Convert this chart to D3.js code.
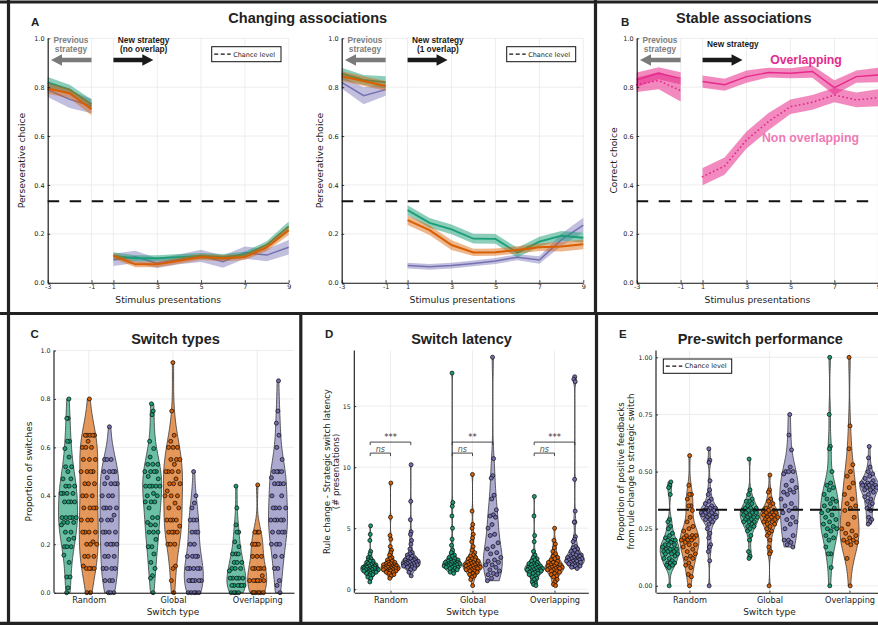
<!DOCTYPE html>
<html><head><meta charset="utf-8">
<script src="https://cdn.jsdelivr.net/npm/d3@7/dist/d3.min.js"></script>
<style>html,body{margin:0;padding:0;background:#fff;}svg{display:block;}</style>
</head><body>
<svg id="fig" width="878" height="625" xmlns="http://www.w3.org/2000/svg"></svg>
<script>
// ================= DATA =================
const stimLabels = ["-3","-2","-1","1","2","3","4","5","6","7","8","9"];
const stimTickIdx = [0,2,3,5,7,9,11];
const probTicks = [0,0.2,0.4,0.6,0.8,1.0];
const chance = 1/3;

// Panel A (left): no overlap
const a1Green  = [0.82,0.79,0.73, 0.11,0.10,0.10,0.105,0.11,0.105,0.115,0.155,0.23];
const a1GreenSem = [0.022,0.02,0.02, 0.015,0.012,0.012,0.012,0.012,0.012,0.012,0.015,0.02];
const a1Orange = [0.795,0.775,0.71, 0.11,0.075,0.075,0.09,0.105,0.10,0.105,0.145,0.215];
const a1OrangeSem = [0.022,0.02,0.025, 0.012,0.012,0.012,0.012,0.012,0.012,0.012,0.015,0.02];
const a1Purple = [0.79,0.75,0.723, 0.093,0.106,0.08,0.095,0.11,0.086,0.123,0.113,0.145];
const a1PurpleSem = [0.03,0.035,0.03, 0.025,0.025,0.02,0.02,0.025,0.025,0.025,0.025,0.03];

// Panel A (right): 1 overlap
const a2Green  = [0.855,0.83,0.82, 0.297,0.245,0.218,0.18,0.179,0.123,0.168,0.192,0.184];
const a2GreenSem = [0.025,0.02,0.025, 0.02,0.02,0.02,0.02,0.02,0.02,0.02,0.02,0.02];
const a2Orange = [0.845,0.825,0.805, 0.256,0.215,0.154,0.124,0.125,0.134,0.145,0.148,0.157];
const a2OrangeSem = [0.02,0.02,0.02, 0.02,0.02,0.02,0.015,0.015,0.015,0.015,0.02,0.02];
const a2Purple = [0.82,0.765,0.79, 0.07,0.065,0.07,0.079,0.089,0.104,0.093,0.175,0.236];
const a2PurpleSem = [0.025,0.035,0.025, 0.012,0.012,0.012,0.012,0.012,0.012,0.015,0.025,0.03];

// Panel B: stable associations
const bOverlap = [0.83,0.857,0.836, 0.823,0.81,0.843,0.86,0.857,0.864,0.798,0.843,0.85];
const bOverlapSem = [0.03,0.025,0.025, 0.025,0.025,0.025,0.02,0.02,0.025,0.03,0.025,0.03];
const bNonOverlap = [0.81,0.827,0.786, 0.434,0.477,0.584,0.659,0.72,0.738,0.768,0.748,0.757];
const bNonOverlapSem = [0.03,0.035,0.045, 0.035,0.035,0.035,0.035,0.03,0.03,0.03,0.03,0.035];

const switchTypes = ["Random","Global","Overlapping"];

// Panel C: proportion of switches
const cRandomGreen = [0.80,0.72,0.72,0.625,0.625,0.595,0.56,0.52,0.52,0.50,0.47,0.47,0.44,0.44,0.44,0.41,0.41,0.41,0.41,0.375,0.375,0.375,0.375,0.31,0.31,0.31,0.31,0.31,0.29,0.29,0.29,0.28,0.25,0.25,0.225,0.22,0.19,0.19,0.19,0.155,0.125,0.065,0.065,0.02,0.0];
const cRandomOrange = [0.80,0.65,0.65,0.65,0.65,0.65,0.625,0.60,0.60,0.60,0.55,0.55,0.55,0.50,0.50,0.50,0.50,0.45,0.45,0.45,0.40,0.40,0.40,0.35,0.35,0.35,0.35,0.30,0.30,0.30,0.25,0.25,0.25,0.25,0.21,0.20,0.20,0.20,0.15,0.15,0.15,0.11,0.10,0.10,0.10,0.10,0.0,0.0];
const cRandomPurple = [0.685,0.55,0.55,0.55,0.50,0.50,0.50,0.50,0.475,0.45,0.45,0.45,0.45,0.40,0.40,0.40,0.35,0.35,0.35,0.35,0.32,0.30,0.30,0.30,0.25,0.25,0.25,0.25,0.20,0.20,0.20,0.20,0.15,0.15,0.15,0.10,0.10,0.10,0.10,0.05,0.05,0.05,0.0,0.0,0.0];
const cGlobalGreen = [0.78,0.75,0.735,0.625,0.595,0.56,0.53,0.53,0.53,0.50,0.50,0.50,0.50,0.48,0.47,0.44,0.44,0.44,0.44,0.44,0.41,0.40,0.40,0.375,0.375,0.375,0.35,0.31,0.31,0.29,0.28,0.28,0.25,0.25,0.25,0.22,0.19,0.19,0.16,0.125,0.10,0.07,0.06,0.0];
const cGlobalOrange = [0.95,0.75,0.65,0.625,0.60,0.60,0.60,0.55,0.55,0.55,0.53,0.50,0.50,0.50,0.50,0.47,0.45,0.45,0.45,0.42,0.40,0.40,0.40,0.37,0.35,0.35,0.30,0.30,0.30,0.30,0.275,0.25,0.25,0.25,0.25,0.20,0.20,0.20,0.11,0.10,0.05,0.0];
const cGlobalPurple = [0.50,0.40,0.37,0.35,0.30,0.30,0.30,0.25,0.25,0.25,0.20,0.20,0.15,0.15,0.15,0.15,0.10,0.10,0.10,0.10,0.10,0.05,0.05,0.05,0.05,0.05,0.05,0.0,0.0,0.0,0.0,0.0];
const cOverGreen = [0.44,0.35,0.28,0.25,0.25,0.21,0.19,0.16,0.16,0.16,0.125,0.125,0.125,0.10,0.10,0.10,0.09,0.06,0.06,0.06,0.06,0.06,0.03,0.03,0.03,0.03,0.03,0.03,0.0,0.0,0.0,0.0];
const cOverOrange = [0.445,0.25,0.25,0.25,0.20,0.20,0.20,0.20,0.15,0.15,0.15,0.10,0.10,0.10,0.10,0.10,0.07,0.05,0.05,0.05,0.05,0.05,0.05,0.0,0.0,0.0,0.0,0.0,0.0];
const cOverPurple = [0.875,0.75,0.70,0.65,0.60,0.55,0.50,0.50,0.50,0.50,0.475,0.45,0.45,0.45,0.45,0.40,0.40,0.35,0.35,0.35,0.35,0.30,0.30,0.30,0.30,0.30,0.25,0.25,0.25,0.25,0.20,0.20,0.20,0.15,0.15,0.10,0.10,0.05,0.03,0.0];

// Panel D: switch latency (# presentations)
const dRandomGreen = [5.2,4.5,4.0,3.1,2.9,2.6,2.5,2.4,2.3,2.3,2.2,2.1,2.1,2.0,2.0,1.9,1.9,1.9,1.8,1.8,1.8,1.7,1.7,1.7,1.7,1.6,1.6,1.6,1.6,1.5,1.5,1.5,1.4,1.4,1.4,1.3,1.3,1.2,1.1,1.0,0.9,0.6];
const dRandomOrange = [8.7,5.9,4.4,4.1,3.5,3.2,3.0,2.8,2.6,2.5,2.4,2.3,2.2,2.2,2.1,2.1,2.0,2.0,2.0,1.9,1.9,1.9,1.8,1.8,1.8,1.8,1.7,1.7,1.7,1.7,1.6,1.6,1.6,1.5,1.5,1.5,1.4,1.4,1.3,1.2,1.1,0.9];
const dRandomPurple = [10.2,7.2,5.7,4.7,4.5,4.0,3.7,3.3,3.0,2.9,2.8,2.7,2.6,2.5,2.5,2.4,2.4,2.3,2.3,2.3,2.2,2.2,2.2,2.1,2.1,2.1,2.0,2.0,2.0,1.9,1.9,1.9,1.8,1.8,1.7,1.6,1.4,1.1];
const dGlobalGreen = [17.7,7.1,6.8,6.0,5.0,4.1,3.6,3.2,3.0,2.8,2.7,2.6,2.5,2.4,2.4,2.3,2.3,2.2,2.2,2.2,2.1,2.1,2.1,2.0,2.0,2.0,2.0,1.9,1.9,1.9,1.8,1.8,1.8,1.7,1.7,1.6,1.5,1.4,1.3];
const dGlobalOrange = [9.4,6.4,5.3,5.0,4.5,4.2,3.9,3.5,3.2,3.0,2.8,2.7,2.6,2.5,2.5,2.4,2.3,2.3,2.2,2.2,2.1,2.1,2.0,2.0,2.0,1.9,1.9,1.9,1.8,1.8,1.8,1.7,1.7,1.7,1.6,1.6,1.5,1.5,1.4,1.3,1.2,1.1,1.0,0.8,0.3];
const dGlobalPurple = [19.0,10.7,9.3,9.1,7.7,7.4,6.5,6.1,6.0,5.9,5.3,5.0,4.5,4.4,3.8,3.5,3.3,3.0,2.9,2.6,2.4,2.3,2.2,2.0,2.0,1.8,1.6,1.5,1.3,1.2,1.2,0.9,0.7];
const dOverGreen = [7.6,6.0,4.4,3.9,3.1,2.8,2.6,2.5,2.4,2.3,2.2,2.1,2.1,2.0,2.0,1.9,1.9,1.8,1.8,1.8,1.7,1.7,1.7,1.6,1.6,1.6,1.5,1.5,1.5,1.4,1.4,1.3,1.3,1.2,1.1,1.0,0.9,0.8,0.6,0.5,0.4,0.3];
const dOverOrange = [5.0,4.0,3.7,3.4,3.1,2.9,2.7,2.6,2.5,2.4,2.3,2.2,2.2,2.1,2.0,2.0,1.9,1.9,1.8,1.8,1.8,1.7,1.7,1.7,1.6,1.6,1.5,1.5,1.4,1.3,1.2,1.1,1.0,0.8,0.6,0.4,0.3];
const dOverPurple = [17.4,17.2,17.0,9.0,6.4,5.5,5.5,4.3,4.1,3.9,3.5,3.4,3.3,3.2,3.1,3.0,2.9,2.8,2.8,2.7,2.7,2.6,2.6,2.5,2.5,2.5,2.4,2.4,2.4,2.3,2.3,2.3,2.2,2.2,2.1,2.1,2.0,2.0,1.9,1.9,1.8,1.7];
const dSigLabels = ["***","**","***"];
const dSigLevel = 12.05;
const dNsLevel = 11.15;
const latencyTicks = [0,5,10,15];

// Panel E: proportion of positive feedbacks
const eRandomGreen = [0.455,0.44,0.43,0.40,0.29,0.28,0.26,0.25,0.23,0.22,0.21,0.20,0.20,0.20,0.19,0.18,0.18,0.18,0.17,0.16,0.16,0.16,0.16,0.15,0.15,0.15,0.14,0.14,0.14,0.13,0.12,0.12,0.11,0.10,0.10,0.10,0.09,0.09,0.08,0.0];
const eRandomOrange = [0.57,0.44,0.40,0.40,0.38,0.35,0.35,0.33,0.30,0.28,0.26,0.25,0.24,0.22,0.22,0.22,0.21,0.21,0.21,0.20,0.20,0.20,0.19,0.18,0.18,0.17,0.16,0.15,0.14,0.13,0.12,0.12,0.10,0.09,0.08,0.05,0.04,0.0];
const eRandomPurple = [0.60,0.55,0.54,0.46,0.42,0.40,0.38,0.37,0.36,0.35,0.34,0.34,0.34,0.33,0.33,0.33,0.32,0.32,0.32,0.31,0.31,0.31,0.30,0.30,0.30,0.29,0.29,0.28,0.27,0.25,0.23,0.21,0.18,0.17,0.15,0.11,0.0];
const eGlobalGreen = [0.555,0.42,0.40,0.38,0.37,0.37,0.36,0.35,0.34,0.34,0.34,0.33,0.33,0.33,0.32,0.32,0.32,0.31,0.31,0.30,0.30,0.30,0.29,0.29,0.28,0.28,0.28,0.27,0.26,0.26,0.25,0.24,0.22,0.20,0.15,0.13,0.12];
const eGlobalOrange = [0.485,0.42,0.41,0.38,0.37,0.36,0.35,0.34,0.33,0.33,0.33,0.32,0.32,0.32,0.31,0.31,0.31,0.30,0.30,0.30,0.29,0.29,0.29,0.28,0.28,0.27,0.27,0.26,0.25,0.24,0.23,0.22,0.20,0.17,0.15,0.14,0.0];
const eGlobalPurple = [0.75,0.66,0.595,0.52,0.50,0.50,0.50,0.49,0.46,0.44,0.43,0.42,0.41,0.41,0.40,0.38,0.36,0.35,0.34,0.33,0.32,0.30,0.29,0.28,0.27,0.25,0.22,0.20,0.20,0.19,0.18,0.17];
const eOverGreen = [1.0,0.75,0.61,0.60,0.50,0.45,0.44,0.43,0.42,0.40,0.38,0.38,0.37,0.36,0.35,0.34,0.33,0.32,0.31,0.30,0.29,0.28,0.27,0.26,0.25,0.25,0.24,0.22,0.21,0.20,0.17,0.14,0.14,0.08,0.0];
const eOverOrange = [1.0,0.70,0.60,0.53,0.50,0.48,0.45,0.43,0.40,0.38,0.36,0.35,0.34,0.33,0.30,0.27,0.25,0.24,0.23,0.22,0.21,0.20,0.20,0.19,0.19,0.18,0.12,0.0];
const eOverPurple = [0.61,0.56,0.52,0.50,0.49,0.48,0.47,0.46,0.45,0.45,0.45,0.44,0.44,0.44,0.44,0.43,0.43,0.43,0.42,0.42,0.41,0.40,0.39,0.38,0.37,0.36,0.35,0.34,0.33,0.30,0.29,0.28,0.27];
const fbTicks = [0,0.25,0.5,0.75,1.0];

// ================= STYLE =================
const cGreen = "#1b9e77", cOrange = "#d95f02", cPurple = "#7570b3", cPink = "#e7298a";
const tickFont = "DejaVu Sans, sans-serif";
const boldFont = "Liberation Sans, Arial, sans-serif";
const svg = d3.select("#fig");

// ================= HELPERS =================
function styleAxis(sel, fs){
  sel.select(".domain").attr("stroke","#111").attr("stroke-width",1.1);
  sel.selectAll(".tick line").attr("stroke","#111").attr("stroke-width",0.8);
  sel.selectAll(".tick text").attr("font-family",tickFont).attr("font-size",fs).attr("fill","#222");
}
function arrow(g, xs, xe, yc, color){
  const dir = Math.sign(xe-xs), hb = xe - dir*11;
  const p = d3.path();
  p.moveTo(xs,yc-2.3); p.lineTo(hb,yc-2.3); p.lineTo(hb,yc-5.8); p.lineTo(xe,yc);
  p.lineTo(hb,yc+5.8); p.lineTo(hb,yc+2.3); p.lineTo(xs,yc+2.3); p.closePath();
  g.append("path").attr("d",p.toString()).attr("fill",color);
}
function txt(g, x, y, s, o){
  o = o||{};
  const t = g.append("text").attr("x",x).attr("y",y).text(s)
    .attr("font-family",o.font||tickFont).attr("font-size",o.size||9)
    .attr("font-weight",o.weight||"normal").attr("fill",o.color||"#222")
    .attr("text-anchor",o.anchor||"middle");
  if(o.rotate) t.attr("transform",`rotate(-90,${x},${y})`);
  if(o.italic) t.attr("font-style","italic");
  return t;
}
function legendBox(g, x0, y0, x1, y1){
  g.append("rect").attr("x",x0).attr("y",y0).attr("width",x1-x0).attr("height",y1-y0)
    .attr("fill","#fff").attr("stroke","#111").attr("stroke-width",1);
  const ym=(y0+y1)/2;
  g.append("line").attr("x1",x0+2.5).attr("x2",x0+19).attr("y1",ym).attr("y2",ym)
    .attr("stroke","#111").attr("stroke-width",1.3).attr("stroke-dasharray","4,2.5");
  txt(g, x0+21.5, ym+2.3, "Chance level", {size:6.5, anchor:"start"});
}

// ================= LINE PANELS =================
function linePanel(p){
  const g = svg.append("g");
  const x = d3.scaleLinear().domain([0,11]).range([p.x0,p.x1]);
  const y = d3.scaleLinear().domain([0,1]).range([282.7,38.3]);
  const grid = g.append("g").attr("stroke","#e9e9e9").attr("stroke-width",0.8);
  grid.selectAll("line.v").data(stimTickIdx).join("line").attr("class","v")
    .attr("x1",d=>x(d)).attr("x2",d=>x(d)).attr("y1",y(0)).attr("y2",y(1));
  grid.selectAll("line.h").data(probTicks.slice(1)).join("line").attr("class","h")
    .attr("x1",x(0)).attr("x2",x(11)).attr("y1",d=>y(d)).attr("y2",d=>y(d));
  g.append("line").attr("x1",x(0)).attr("x2",x(11)).attr("y1",y(chance)).attr("y2",y(chance))
    .attr("stroke","#111").attr("stroke-width",1.9).attr("stroke-dasharray","11.5,10.5");
  const segs = [[0,1,2],[3,4,5,6,7,8,9,10,11]];
  p.series.forEach(s=>{
    segs.forEach(seg=>{
      const pts = seg.map(i=>({i, m:s.mean[i], e:s.sem[i]}));
      g.append("path").datum(pts)
        .attr("d", d3.area().x(d=>x(d.i)).y0(d=>y(d.m-d.e)).y1(d=>y(d.m+d.e)))
        .attr("fill", s.color).attr("fill-opacity", s.bandOp);
      g.append("path").datum(pts)
        .attr("d", d3.line().x(d=>x(d.i)).y(d=>y(d.m)))
        .attr("fill","none").attr("stroke",s.color).attr("stroke-width",s.width)
        .attr("stroke-dasharray", s.dash||null).attr("stroke-linecap", s.dash?"round":"butt");
    });
  });
  const ay = g.append("g").attr("transform",`translate(${p.x0},0)`)
    .call(d3.axisLeft(y).tickValues(probTicks).tickFormat(d3.format(".1f")).tickSizeInner(-2.5).tickSizeOuter(0).tickPadding(3));
  styleAxis(ay, 6.5);
  const ax = g.append("g").attr("transform",`translate(0,${y(0)})`)
    .call(d3.axisBottom(x).tickValues(stimTickIdx).tickFormat(i=>stimLabels[i]).tickSizeInner(-2.5).tickSizeOuter(0).tickPadding(2));
  styleAxis(ax, 6.5);
  txt(g, (p.x0+p.x1)/2, 302.5, "Stimulus presentations", {size:9.2});
  txt(g, p.ylabX, 160.5, p.ylabel, {size:9.2, rotate:true});
  // annotations
  txt(g, x(1.06), 42.5, "Previous", {font:boldFont, weight:"bold", size:8.3, color:"#808080"});
  txt(g, x(1.06), 51.8, "strategy", {font:boldFont, weight:"bold", size:8.3, color:"#808080"});
  arrow(g, x(2), x(0.15), 60, "#7a7a7a");
  if(p.newLine2){
    txt(g, x(4.38), 42.5, "New strategy", {font:boldFont, weight:"bold", size:8.3, color:"#1a1a1a"});
    txt(g, x(4.38), 51.8, p.newLine2, {font:boldFont, weight:"bold", size:8.3, color:"#1a1a1a"});
  } else {
    txt(g, x(4.38), 46.5, "New strategy", {font:boldFont, weight:"bold", size:8.3, color:"#1a1a1a"});
  }
  arrow(g, x(3), x(4.82), 60, "#1a1a1a");
  return {g,x,y};
}

linePanel({x0:47.7, x1:288.7, ylabX:25, ylabel:"Perseverative choice", newLine2:"(no overlap)",
  series:[
    {mean:a1Purple, sem:a1PurpleSem, color:cPurple, bandOp:0.45, width:1.5},
    {mean:a1Green, sem:a1GreenSem, color:cGreen, bandOp:0.5, width:1.8},
    {mean:a1Orange, sem:a1OrangeSem, color:cOrange, bandOp:0.45, width:2}
  ]});
legendBox(svg, 211.7, 46.7, 281, 61.7);

linePanel({x0:341.7, x1:583.3, ylabX:322.5, ylabel:"Perseverative choice", newLine2:"(1 overlap)",
  series:[
    {mean:a2Purple, sem:a2PurpleSem, color:cPurple, bandOp:0.45, width:1.5},
    {mean:a2Green, sem:a2GreenSem, color:cGreen, bandOp:0.5, width:1.8},
    {mean:a2Orange, sem:a2OrangeSem, color:cOrange, bandOp:0.45, width:2}
  ]});
legendBox(svg, 506.7, 46.7, 575.7, 61.7);

const pb = linePanel({x0:636.7, x1:878.3, ylabX:616.5, ylabel:"Correct choice", newLine2:null,
  series:[
    {mean:bNonOverlap, sem:bNonOverlapSem, color:cPink, bandOp:0.55, width:1.8, dash:"0.1,4"},
    {mean:bOverlap, sem:bOverlapSem, color:cPink, bandOp:0.55, width:1.4}
  ]});
txt(pb.g, 806, 63.8, "Overlapping", {font:boldFont, weight:"bold", size:12.3, color:"#e22c8c"});
txt(pb.g, 810.5, 142.3, "Non overlapping", {font:boldFont, weight:"bold", size:12.3, color:"#f07ab6"});

// titles top row
txt(svg, 307.7, 22.7, "Changing associations", {font:boldFont, weight:"bold", size:14.5, color:"#222"});
txt(svg, 743.8, 22.7, "Stable associations", {font:boldFont, weight:"bold", size:14.5, color:"#222"});
txt(svg, 31, 26, "A", {font:boldFont, weight:"bold", size:11.5, anchor:"start"});
txt(svg, 621, 26, "B", {font:boldFont, weight:"bold", size:11.5, anchor:"start"});

// ================= VIOLIN PANELS =================
function kde(vals){
  const n = vals.length, s = vals.slice().sort(d3.ascending);
  const sd = d3.deviation(vals);
  const iqr = d3.quantileSorted(s,0.75) - d3.quantileSorted(s,0.25);
  const sp = iqr>0 ? Math.min(sd, iqr/1.34) : sd;
  const bw = 0.9*sp*Math.pow(n,-0.2);
  return v => d3.mean(vals, d => Math.exp(-0.5*((v-d)/bw)**2));
}
function violinPanel(p){
  const g = svg.append("g");
  const y = d3.scaleLinear().domain(p.yDomain).range([592.7,350.5]);
  const x = d3.scaleLinear().domain([0,1]).range([p.c0, p.c0+p.step]);
  const grid = g.append("g").attr("stroke","#e9e9e9").attr("stroke-width",0.8);
  grid.selectAll("line.h").data(p.yTicks).join("line").attr("class","h")
    .attr("x1",p.xa0).attr("x2",p.xa1).attr("y1",d=>y(d)).attr("y2",d=>y(d));
  grid.selectAll("line.v").data([0,1,2]).join("line").attr("class","v")
    .attr("x1",d=>x(d)).attr("x2",d=>x(d)).attr("y1",y.range()[0]).attr("y2",y.range()[1]);
  const cols = [cGreen,cOrange,cPurple];
  const halfW = 9.5;
  let seed = 0;
  p.groups.forEach((trio,gi)=>trio.forEach((vals,k)=>{
    const cx = x(gi) + (k-1)*p.off;
    const f = kde(vals);
    const lo = d3.min(vals), hi = d3.max(vals);
    const ys = d3.range(81).map(i=>lo+(hi-lo)*i/80);
    const ds = ys.map(f);
    const mx = d3.max(ds);
    const wScale = d3.scaleLinear().domain([0,mx]).range([0,halfW]);
    const pts = ys.map((v,i)=>({v, w:wScale(ds[i])}));
    g.append("path").datum(pts)
      .attr("d", d3.area().x0(d=>cx-d.w).x1(d=>cx+d.w).y(d=>y(d.v)))
      .attr("fill", cols[k]).attr("fill-opacity", k===2?0.6:0.65)
      .attr("stroke","#3a3a3a").attr("stroke-width",0.8);
    const dots = vals.map((v,i)=>{
      seed++;
      const u = ((seed*0.6180339887)+0.31)%1;
      return {v, dx:(2*u-1)*wScale(f(v))*0.88};
    });
    g.selectAll(null).data(dots).join("circle")
      .attr("cx",d=>cx+d.dx).attr("cy",d=>y(d.v)).attr("r",2)
      .attr("fill",cols[k]).attr("stroke","#111").attr("stroke-width",0.75);
  }));
  const ay = g.append("g").attr("transform",`translate(${p.xa0},0)`)
    .call(d3.axisLeft(y).tickValues(p.yTicks).tickFormat(p.fmt).tickSizeInner(-2).tickSizeOuter(0).tickPadding(3.5));
  styleAxis(ay, 6.3);
  ay.select(".domain").attr("d",`M0,${y.range()[0]}V${y.range()[1]}`);
  const xb = d3.scaleLinear().domain([p.xa0,p.xa1]).range([p.xa0,p.xa1]);
  const ax = g.append("g").attr("transform",`translate(0,${y.range()[0]})`)
    .call(d3.axisBottom(xb).tickValues([0,1,2].map(i=>x(i))).tickFormat((d,i)=>switchTypes[i]).tickSizeInner(-2).tickSizeOuter(0).tickPadding(4.5));
  styleAxis(ax, 8.2);
  txt(g, x(1), 614.5, "Switch type", {size:9});
  txt(g, p.titleX, 343.5, p.title, {font:boldFont, weight:"bold", size:14.5, color:"#222"});
  txt(g, p.letterX, 337.5, p.letter, {font:boldFont, weight:"bold", size:11.5, anchor:"start"});
  p.ylab.forEach((l,i)=>txt(g, p.ylabX[i], 471.5, l, {size:p.ylabSize, rotate:true}));
  return {g,x,y};
}

violinPanel({yDomain:[0,1], yTicks:probTicks, fmt:d3.format(".1f"), xa0:54, xa1:294, c0:88.8, step:84.2, off:20.8,
  groups:[[cRandomGreen,cRandomOrange,cRandomPurple],[cGlobalGreen,cGlobalOrange,cGlobalPurple],[cOverGreen,cOverOrange,cOverPurple]],
  title:"Switch types", titleX:175.5, letter:"C", letterX:30.5, ylab:["Proportion of switches"], ylabX:[32], ylabSize:9});

const pd = violinPanel({yDomain:[-0.28,19.55], yTicks:latencyTicks, fmt:d3.format("d"), xa0:354.3, xa1:588.3, c0:390.5, step:82, off:20.3,
  groups:[[dRandomGreen,dRandomOrange,dRandomPurple],[dGlobalGreen,dGlobalOrange,dGlobalPurple],[dOverGreen,dOverOrange,dOverPurple]],
  title:"Switch latency", titleX:461.5, letter:"D", letterX:325, ylab:["Rule change - Strategic switch latency","(# presentations)"], ylabX:[329.5,339], ylabSize:8.6});
// significance brackets
[0,1,2].forEach(gi=>{
  const xg = pd.x(gi)-20.3, xo = pd.x(gi), xp = pd.x(gi)+20.3;
  const yS = pd.y(dSigLevel), yN = pd.y(dNsLevel);
  const br = (a,b,yy)=>pd.g.append("path").attr("d",`M${a},${yy+3}V${yy}H${b}V${yy+3}`)
    .attr("fill","none").attr("stroke","#333").attr("stroke-width",0.9);
  br(xg,xp,yS); br(xg,xo,yN);
  txt(pd.g, (xg+xp)/2, yS-1.8, dSigLabels[gi], {size:8.5, color:"#333"});
  txt(pd.g, (xg+xo)/2, yN-1.5, "ns", {size:8, color:"#555", italic:true});
});

const pe = violinPanel({yDomain:[-0.03,1.03], yTicks:fbTicks, fmt:d3.format(".2f"), xa0:656, xa1:882, c0:689.5, step:80, off:19.8,
  groups:[[eRandomGreen,eRandomOrange,eRandomPurple],[eGlobalGreen,eGlobalOrange,eGlobalPurple],[eOverGreen,eOverOrange,eOverPurple]],
  title:"Pre-switch performance", titleX:760.3, letter:"E", letterX:619, ylab:["Proportion of positive feedbacks","from rule change to strategic switch"], ylabX:[624,634], ylabSize:8.6});
pe.g.append("line").attr("x1",658).attr("x2",882).attr("y1",pe.y(chance)).attr("y2",pe.y(chance))
  .attr("stroke","#111").attr("stroke-width",2).attr("stroke-dasharray","12,7");
legendBox(pe.g, 663.3, 359, 731.7, 373.3);

// ================= PANEL FRAMES =================
const frame = svg.append("g").attr("stroke","#222").attr("stroke-width",3.2).attr("fill","none");
const frameLines = [
  [0,2,878,2],[8.5,0,8.5,625],[0,313.5,878,313.5],[0,623.3,878,623.3],
  [595.5,0,595.5,313.5],[300.8,313.5,300.8,625],[596.5,313.5,596.5,625]
];
frame.selectAll("line").data(frameLines).join("line")
  .attr("x1",d=>d[0]).attr("y1",d=>d[1]).attr("x2",d=>d[2]).attr("y2",d=>d[3]);
</script>
</body></html>
